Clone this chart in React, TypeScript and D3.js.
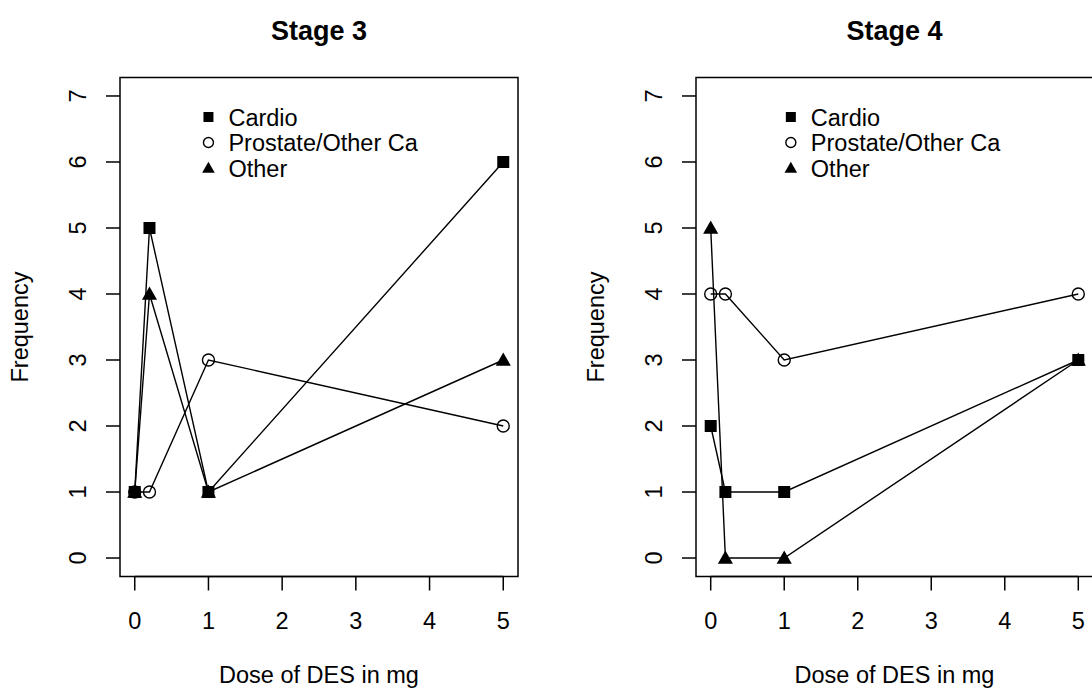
import React, { useRef, useEffect } from 'react';
import * as d3 from 'd3';

const doses = [0, 0.2, 1, 5];
const seriesNames = ['Cardio', 'Prostate/Other Ca', 'Other'];
const shapes = ['square', 'circle', 'triangle'];

const stage3Cardio = [1, 5, 1, 6];
const stage3Prostate = [1, 1, 3, 2];
const stage3Other = [1, 4, 1, 3];

const stage4Cardio = [2, 1, 1, 3];
const stage4Prostate = [4, 4, 3, 4];
const stage4Other = [5, 0, 0, 3];

const xTicks = [0, 1, 2, 3, 4, 5];
const yTicks = [0, 1, 2, 3, 4, 5, 6, 7];

const panels = [
  { title: 'Stage 3', series: [stage3Cardio, stage3Prostate, stage3Other], left: 120, right: 518, legendX: 1.0 },
  { title: 'Stage 4', series: [stage4Cardio, stage4Prostate, stage4Other], left: 696, right: 1093, legendX: 1.09 },
];

const FONT = 'Liberation Sans, Arial, Helvetica, sans-serif';
const FS = '23.5px';

function drawMarker(g: any, shape: string, cx: number, cy: number, s: number) {
  if (shape === 'square') {
    g.append('rect')
      .attr('x', cx - s / 2).attr('y', cy - s / 2)
      .attr('width', s).attr('height', s)
      .attr('fill', '#000');
  } else if (shape === 'circle') {
    g.append('circle')
      .attr('cx', cx).attr('cy', cy).attr('r', s / 2)
      .attr('fill', 'none').attr('stroke', '#000').attr('stroke-width', 1.4);
  } else {
    const h = s * 1.05;
    g.append('path')
      .attr('d', `M${cx},${cy - h * 0.6}L${cx + h * 0.6},${cy + h * 0.45}L${cx - h * 0.6},${cy + h * 0.45}Z`)
      .attr('fill', '#000');
  }
}

export default function App() {
  const ref = useRef<SVGSVGElement>(null);

  useEffect(() => {
    const svg = d3.select(ref.current);
    svg.selectAll('*').remove();

    const top = 77.5;
    const bottom = 576.5;

    panels.forEach((p) => {
      // R style: 4% padding on each side of data range
      const x = d3.scaleLinear().domain([-0.2, 5.2]).range([p.left, p.right]);
      const y = d3.scaleLinear().domain([-0.28, 7.28]).range([bottom, top]);
      const g = svg.append('g');

      g.append('rect')
        .attr('x', p.left).attr('y', top)
        .attr('width', p.right - p.left).attr('height', bottom - top)
        .attr('fill', 'none').attr('stroke', '#000').attr('stroke-width', 1.5);

      // x axis
      xTicks.forEach((t) => {
        g.append('line')
          .attr('x1', x(t)).attr('x2', x(t))
          .attr('y1', bottom).attr('y2', bottom + 14)
          .attr('stroke', '#000').attr('stroke-width', 1.5);
        g.append('text')
          .attr('x', x(t)).attr('y', 629)
          .attr('text-anchor', 'middle')
          .style('font-family', FONT).style('font-size', FS)
          .text(t);
      });
      g.append('line')
        .attr('x1', x(0)).attr('x2', x(5))
        .attr('y1', bottom).attr('y2', bottom)
        .attr('stroke', '#000').attr('stroke-width', 1.5);

      // y axis
      yTicks.forEach((t) => {
        g.append('line')
          .attr('x1', p.left - 14).attr('x2', p.left)
          .attr('y1', y(t)).attr('y2', y(t))
          .attr('stroke', '#000').attr('stroke-width', 1.5);
        g.append('text')
          .attr('transform', `translate(${p.left - 34},${y(t)}) rotate(-90)`)
          .attr('text-anchor', 'middle')
          .style('font-family', FONT).style('font-size', FS)
          .text(t);
      });

      const cx = (p.left + p.right) / 2;
      g.append('text')
        .attr('x', cx).attr('y', 683)
        .attr('text-anchor', 'middle')
        .style('font-family', FONT).style('font-size', FS)
        .text('Dose of DES in mg');
      g.append('text')
        .attr('transform', `translate(${p.left - 92},${(top + bottom) / 2}) rotate(-90)`)
        .attr('text-anchor', 'middle')
        .style('font-family', FONT).style('font-size', FS)
        .text('Frequency');
      g.append('text')
        .attr('x', cx).attr('y', 40)
        .attr('text-anchor', 'middle')
        .style('font-family', FONT).style('font-size', '27px').style('font-weight', 'bold')
        .text(p.title);

      // series
      p.series.forEach((vals, si) => {
        const pts = doses.map((d, i) => [x(d), y(vals[i])] as [number, number]);
        g.append('path')
          .attr('d', d3.line()(pts))
          .attr('fill', 'none').attr('stroke', '#000').attr('stroke-width', 1.4);
        pts.forEach(([px, py]) => drawMarker(g, shapes[si], px, py, 12));
      });

      // legend
      const lx = x(p.legendX);
      seriesNames.forEach((name, i) => {
        const ly = 117 + i * 25.5;
        drawMarker(g, shapes[i], lx, ly, 10);
        g.append('text')
          .attr('x', lx + 20).attr('y', ly + 8.5)
          .style('font-family', FONT).style('font-size', FS)
          .text(name);
      });
    });
  }, []);

  return (
    <svg
      ref={ref}
      width={1092}
      height={694}
      style={{ position: 'absolute', left: 0, top: 0, background: '#fff' }}
    />
  );
}
